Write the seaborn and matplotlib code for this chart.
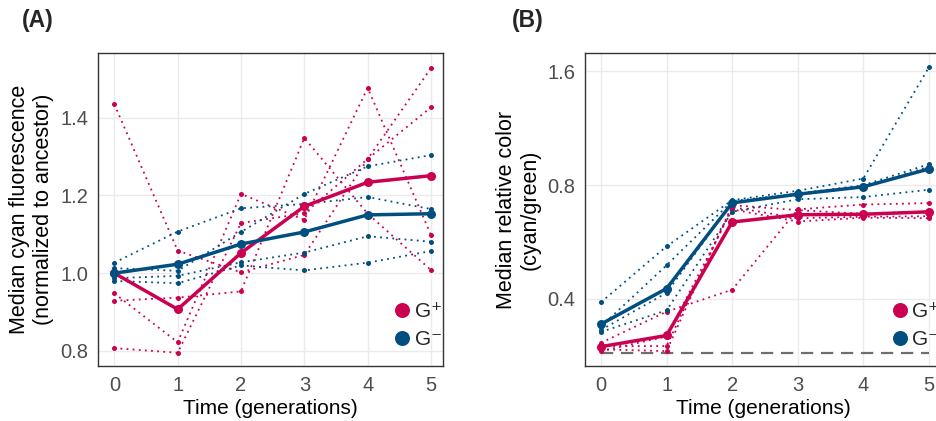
import numpy as np
import pandas as pd
import matplotlib
matplotlib.use("Agg")
import matplotlib.pyplot as plt
from matplotlib.lines import Line2D
from matplotlib.ticker import FixedLocator, FixedFormatter, NullLocator
import seaborn as sns

# ---------------- data ----------------
times = [0, 1, 2, 3, 4, 5]
groups = ["G+", "G-"]
legend_labels = ["G\u207a", "G\u207b"]

# Panel A: median cyan fluorescence (normalized to ancestor)
fluor_gplus_r1 = [1.435, 1.058, 1.002, 1.047, 1.294, 1.528]
fluor_gplus_r2 = [0.929, 0.937, 0.953, 1.348, 1.153, 1.008]
fluor_gplus_r3 = [0.948, 0.822, 1.204, 1.137, 1.477, 1.098]
fluor_gplus_r4 = [0.807, 0.795, 1.129, 1.154, 1.294, 1.427]
fluor_gplus_mean = [1.000, 0.907, 1.052, 1.172, 1.234, 1.251]

fluor_gminus_r1 = [1.027, 1.107, 1.167, 1.178, 1.196, 1.165]
fluor_gminus_r2 = [1.013, 1.006, 1.106, 1.204, 1.275, 1.304]
fluor_gminus_r3 = [0.987, 0.993, 1.028, 1.053, 1.095, 1.081]
fluor_gminus_r4 = [0.980, 0.974, 1.020, 1.007, 1.027, 1.057]
fluor_gminus_mean = [1.000, 1.023, 1.075, 1.106, 1.150, 1.153]

# Panel B: median relative color (cyan/green)
color_gplus_r1 = [0.306, 0.370, 0.423, 0.690, 0.711, 0.717]
color_gplus_r2 = [0.294, 0.291, 0.708, 0.687, 0.672, 0.682]
color_gplus_r3 = [0.300, 0.300, 0.700, 0.654, 0.660, 0.662]
color_gplus_r4 = [0.291, 0.318, 0.690, 0.641, 0.656, 0.654]
color_gplus_mean = [0.299, 0.320, 0.639, 0.668, 0.670, 0.680]

color_gminus_r1 = [0.392, 0.551, 0.730, 0.773, 0.833, 1.640]
color_gminus_r2 = [0.338, 0.491, 0.726, 0.760, 0.800, 0.909]
color_gminus_r3 = [0.331, 0.415, 0.720, 0.755, 0.790, 0.895]
color_gminus_r4 = [0.327, 0.373, 0.680, 0.734, 0.744, 0.778]
color_gminus_mean = [0.343, 0.426, 0.718, 0.757, 0.792, 0.883]

ancestor_color = 0.288

yticks_a = [0.8, 1.0, 1.2, 1.4]
yticks_b = [0.4, 0.8, 1.6]
ytick_labels_b = ["0.4", "0.8", "1.6"]


def long_reps(reps_by_group):
    rows = []
    for g, reps in reps_by_group.items():
        for i, rep in enumerate(reps):
            for t, v in zip(times, rep):
                rows.append({"time": t, "value": v, "group": g, "rep": f"{g}_{i}"})
    return pd.DataFrame(rows)


def long_means(mean_by_group):
    rows = []
    for g, m in mean_by_group.items():
        for t, v in zip(times, m):
            rows.append({"time": t, "value": v, "group": g})
    return pd.DataFrame(rows)


df_a_rep = long_reps({"G+": [fluor_gplus_r1, fluor_gplus_r2, fluor_gplus_r3, fluor_gplus_r4],
                      "G-": [fluor_gminus_r1, fluor_gminus_r2, fluor_gminus_r3, fluor_gminus_r4]})
df_a_mean = long_means({"G+": fluor_gplus_mean, "G-": fluor_gminus_mean})
df_b_rep = long_reps({"G+": [color_gplus_r1, color_gplus_r2, color_gplus_r3, color_gplus_r4],
                      "G-": [color_gminus_r1, color_gminus_r2, color_gminus_r3, color_gminus_r4]})
df_b_mean = long_means({"G+": color_gplus_mean, "G-": color_gminus_mean})
df_anc = pd.DataFrame({"time": [times[0], times[-1]], "value": [ancestor_color, ancestor_color]})

# ---------------- style ----------------
sns.set_style("white")
plt.rcParams["font.family"] = ["Liberation Sans", "DejaVu Sans"]

RED = "#CC0050"
BLUE = "#004F80"
palette = {"G+": RED, "G-": BLUE}
GRID = "#EBEBEB"

fig = plt.figure(figsize=(9.36, 4.21), dpi=100)
ax_a = fig.add_axes([98.3 / 936, 55 / 421, 345 / 936, 312.7 / 421])
ax_b = fig.add_axes([585 / 936, 55 / 421, 357 / 936, 312.7 / 421])


def draw(ax, df_rep, df_mean):
    sns.lineplot(data=df_rep, x="time", y="value", hue="group", units="rep",
                 estimator=None, palette=palette, hue_order=groups, ax=ax,
                 legend=False, linewidth=1.3, linestyle=(0, (1, 2.4)),
                 marker="o", markersize=3.6, markeredgewidth=0, zorder=3)
    sns.lineplot(data=df_mean, x="time", y="value", hue="group",
                 palette=palette, hue_order=groups, ax=ax, legend=False,
                 estimator=None, linewidth=2.5, marker="o", markersize=6.5,
                 markeredgewidth=0, zorder=4)


def style_axes(ax):
    ax.set_facecolor("white")
    ax.grid(True, color=GRID, linewidth=1.0, zorder=0)
    ax.set_axisbelow(True)
    for s in ax.spines.values():
        s.set_color("#333333")
        s.set_linewidth(1.0)
        s.set_visible(True)
    ax.tick_params(axis="both", which="major", direction="out", length=4,
                   width=0.9, color="#333333", labelcolor="#4D4D4D",
                   labelsize=14.5, pad=3)
    ax.set_xticks(times)
    ax.set_xticklabels([str(t) for t in times])
    ax.set_xlabel("Time (generations)", fontsize=15, color="black", labelpad=3)


# Panel A
draw(ax_a, df_a_rep, df_a_mean)
style_axes(ax_a)
ax_a.set_xlim(-0.253, 5.194)
ax_a.set_ylim(0.761, 1.566)
ax_a.set_yticks(yticks_a)
ax_a.set_yticklabels([f"{v:.1f}" for v in yticks_a])
ax_a.set_ylabel("Median cyan fluorescence\n(normalized to ancestor)", fontsize=15.5,
                color="black", labelpad=5, linespacing=1.15)

# Panel B
sns.lineplot(data=df_anc, x="time", y="value", ax=ax_b, color="#6E6E6E",
             linewidth=1.6, linestyle=(0, (5.5, 3.5)), zorder=2, legend=False)
draw(ax_b, df_b_rep, df_b_mean)
style_axes(ax_b)
ax_b.set_yscale("log", base=2)
ax_b.set_xlim(-0.244, 5.2)
ax_b.set_ylim(0.2657, 1.787)
ax_b.yaxis.set_major_locator(FixedLocator(yticks_b))
ax_b.yaxis.set_major_formatter(FixedFormatter(ytick_labels_b))
ax_b.yaxis.set_minor_locator(NullLocator())
ax_b.set_ylabel("Median relative color\n(cyan/green)", fontsize=15.5,
                color="black", labelpad=5, linespacing=1.15)

# Legends
for ax, anchor in ((ax_a, (0.851, 0.218)), (ax_b, (0.853, 0.218))):
    handles = [Line2D([], [], marker="o", linestyle="", color=palette[g],
                      markersize=10.8, markeredgewidth=0) for g in groups]
    ax.legend(handles, legend_labels, loc="upper left", bbox_to_anchor=anchor,
              frameon=False, fontsize=15, handlelength=0.6, handletextpad=0.3,
              labelspacing=0.45, borderpad=0.2, borderaxespad=0)

fig.text(22 / 936, 1 - 20 / 421, "(A)", fontsize=16.5, fontweight="bold", va="center")
fig.text(512 / 936, 1 - 20 / 421, "(B)", fontsize=16.5, fontweight="bold", va="center")

fig.savefig("out.png", dpi=100)
